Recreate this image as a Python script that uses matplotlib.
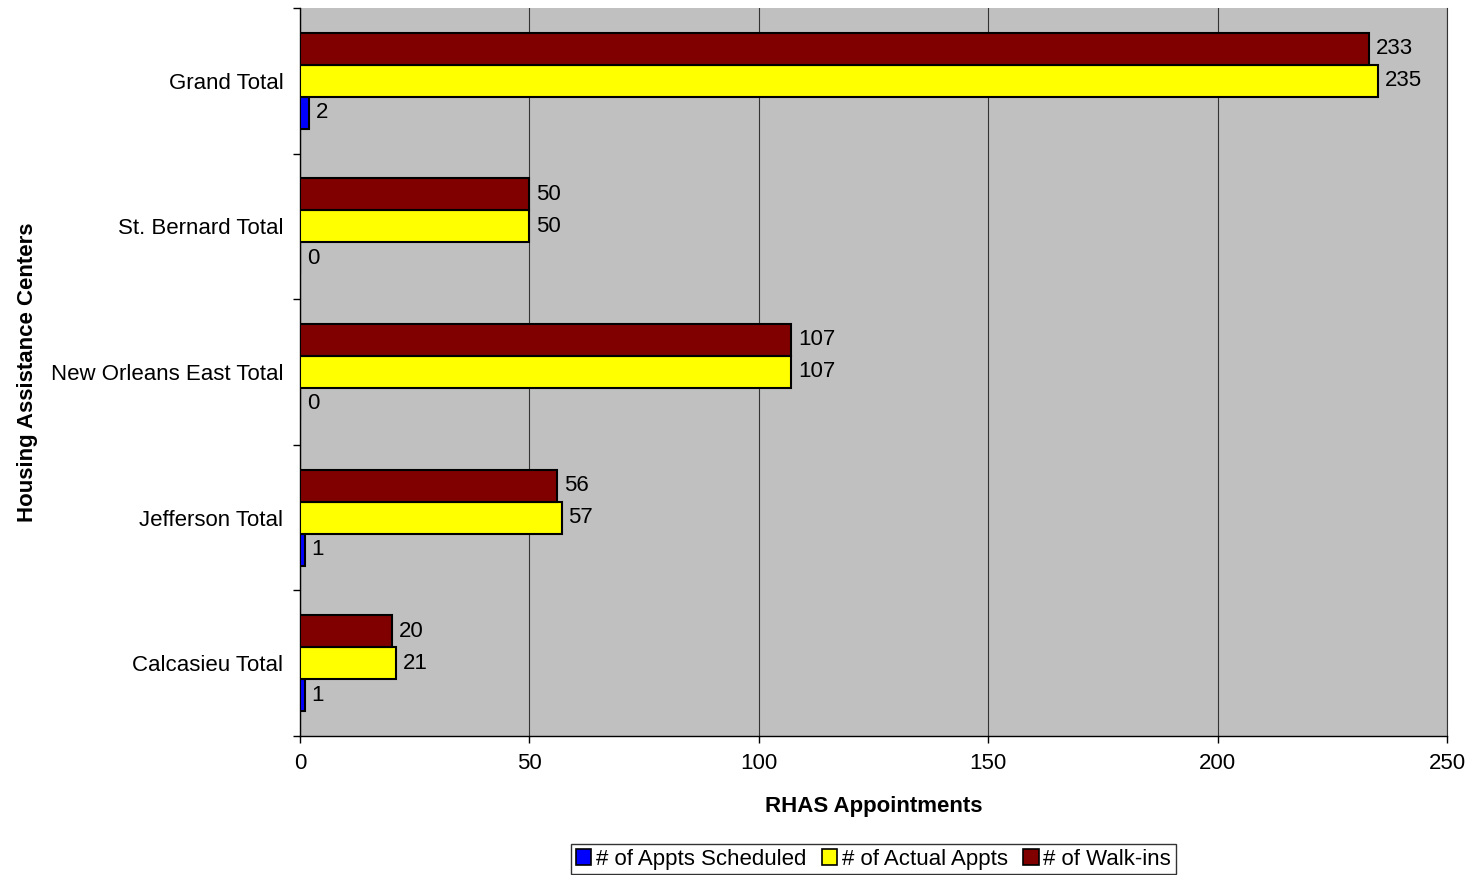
import matplotlib.pyplot as plt
import numpy as np

plt.rcParams['font.family'] = ['Liberation Sans', 'DejaVu Sans']

centers = ["Calcasieu Total", "Jefferson Total", "New Orleans East Total",
           "St. Bernard Total", "Grand Total"]
scheduled = [1, 1, 0, 0, 2]
actual = [21, 57, 107, 50, 235]
walkins = [20, 56, 107, 50, 233]
series_names = ["# of Appts Scheduled", "# of Actual Appts", "# of Walk-ins"]
colors = ['#0000FF', '#FFFF00', '#800000']

fs = 16

fig, ax = plt.subplots(figsize=(14.72, 8.75), dpi=100)
fig.patch.set_facecolor('white')
ax.set_facecolor('#C0C0C0')
plt.subplots_adjust(left=0.2038, right=0.983, top=0.9909, bottom=0.1589)

y = np.arange(len(centers))
h = 0.22
for i, (vals, name, c) in enumerate(zip([scheduled, actual, walkins], series_names, colors)):
    b = ax.barh(y + (i - 1) * h, vals, height=h, color=c, edgecolor='black',
                linewidth=1.5, label=name, zorder=3)
    ax.bar_label(b, padding=5, fontsize=fs)

ax.set_xlim(0, 250)
ax.set_ylim(-0.5, len(centers) - 0.5)
ax.set_xticks(range(0, 251, 50))
ax.set_yticks(y)
ax.set_yticklabels(centers)
ax.set_yticks(np.arange(-0.5, len(centers), 1), minor=True)
ax.tick_params(axis='y', which='major', length=0, pad=12, labelsize=fs)
ax.tick_params(axis='y', which='minor', length=5, width=1, direction='out')
ax.tick_params(axis='x', which='major', length=5, width=1, direction='out', pad=7, labelsize=fs)

ax.grid(axis='x', color='#333333', linewidth=0.8, zorder=0)
ax.set_axisbelow(True)
ax.spines['top'].set_visible(False)
ax.spines['right'].set_color('#333333')
ax.spines['right'].set_linewidth(0.8)
ax.spines['left'].set_linewidth(1)
ax.spines['bottom'].set_linewidth(1)

ax.set_xlabel("RHAS Appointments", fontsize=fs, fontweight='bold', labelpad=16)
ax.set_ylabel("Housing Assistance Centers", fontsize=fs, fontweight='bold', labelpad=9)

leg = ax.legend(loc='upper center', bbox_to_anchor=(0.5, -0.149), ncol=3,
                fontsize=fs, frameon=True, fancybox=False, edgecolor='black',
                handlelength=0.7, handleheight=0.7, handletextpad=0.2,
                columnspacing=0.7, borderpad=0.2, borderaxespad=0)
leg.get_frame().set_linewidth(1)
for p in leg.get_patches():
    p.set_linewidth(1.2)

plt.savefig("out.png", dpi=100)
